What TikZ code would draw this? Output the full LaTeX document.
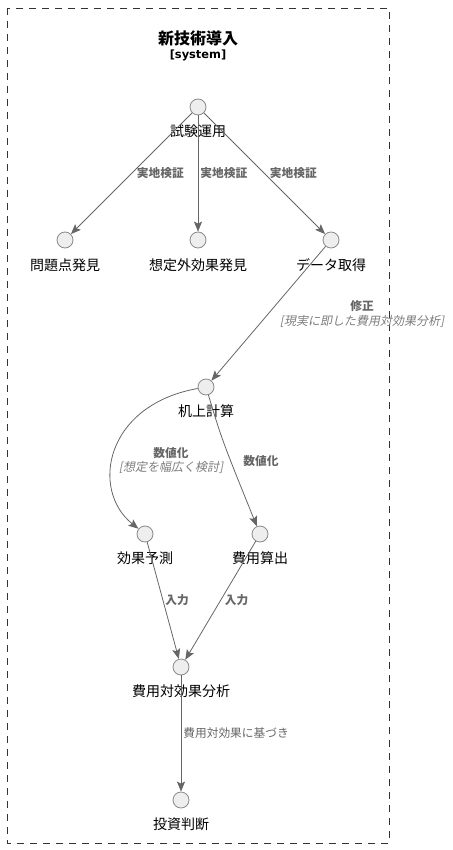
\documentclass[tikz,border=0pt]{standalone}
\usepackage{fontspec}
\setmainfont{Noto Sans CJK JP}[ItalicFont={Noto Sans CJK JP},ItalicFeatures={FakeSlant=0.2}]
\newfontfamily\latinbold{DejaVu Sans}
\usepackage{tikz}
\usetikzlibrary{arrows.meta, calc}

\definecolor{edgegray}{HTML}{666666}
\definecolor{ringgray}{HTML}{8A8A8A}
\definecolor{dotfill}{HTML}{EEEEEE}

\begin{document}
\begin{tikzpicture}[x=1pt, y=-1pt,
    state/.style={circle, draw=ringgray, fill=dotfill, line width=0.8pt, minimum size=16pt, inner sep=0pt},
    lbl/.style={font=\fontsize{14}{16}\selectfont, inner sep=0pt},
    elbl/.style={font=\bfseries\fontsize{11.7}{13}\selectfont, text=edgegray, inner sep=0pt},
    guard/.style={font=\itshape\fontsize{12}{14}\selectfont, text=edgegray!85},
    flow/.style={draw=edgegray, line width=0.8pt, -{Stealth[length=10pt, width=8pt, inset=2pt]}}]
        \useasboundingbox (0,0) rectangle (452,850);

        % frame and title
        \draw[black!80, line width=0.8pt, dash pattern=on 7pt off 6pt] (7,8) rectangle (389,843);
        \node[font=\bfseries\fontsize{16}{18}\selectfont] (title) at (198,38) {新技術導入};
        \node[font=\latinbold\bfseries\fontsize{11.4}{13}\selectfont] (kind) at (198,55) {[system]};

        % states
        \node[state] (trial) at (198,107) {};
        \node[state] (probfind) at (65,240) {};
        \node[state] (unexpfind) at (198,240) {};
        \node[state] (datafetch) at (331,240) {};
        \node[state] (desk) at (206,387) {};
        \node[state] (effect) at (145,534) {};
        \node[state] (cost) at (260,534) {};
        \node[state] (analysis) at (181,667) {};
        \node[state] (invest) at (181,800) {};

        \node[lbl] (trialtxt) at (198,131) {試験運用};
        \node[lbl] (probtxt) at (65,265) {問題点発見};
        \node[lbl] (unexptxt) at (198,265) {想定外効果発見};
        \node[lbl] (datatxt) at (331,265) {データ取得};
        \node[lbl] (desktxt) at (206,411) {机上計算};
        \node[lbl] (effecttxt) at (145,558) {効果予測};
        \node[lbl] (costtxt) at (260,558) {費用算出};
        \node[lbl] (analysistxt) at (181,691) {費用対効果分析};
        \node[lbl] (investtxt) at (181,824) {投資判断};

        % transitions
        \draw[flow] (trial) -- (probfind) node[elbl, midway, anchor=west, xshift=5pt] {実地検証};
        \draw[flow] (trial) -- (unexpfind) node[elbl, midway, anchor=west, xshift=2pt] {実地検証};
        \draw[flow] (trial) -- (datafetch) node[elbl, midway, anchor=west, xshift=5pt] {実地検証};
        \draw[flow] (datafetch) -- (desk);
        \node[elbl] (fixlbl) at (362,306) {修正};
        \node[guard, inner sep=0pt] (fixguard) at (362,321) {[現実に即した費用対効果分析]};
        \draw[flow] (desk) .. controls (105,405) and (90,490) .. (effect);
        \node[elbl] (numlbl) at (171,453) {数値化};
        \node[guard, inner sep=0pt] (numguard) at (171,467) {[想定を幅広く検討]};
        \draw[flow] (desk) .. controls (222,440) .. (cost);
        \node[elbl] (numlbltwo) at (261,461) {数値化};
        \draw[flow] (effect) -- (analysis) node[elbl, pos=0.5, anchor=west, xshift=2pt] {入力};
        \draw[flow] (cost) -- (analysis) node[elbl, pos=0.5, anchor=west, xshift=4pt] {入力};
        \draw[flow] (analysis) -- (invest) node[elbl, midway, anchor=west, xshift=2pt, font=\fontsize{11.7}{13}\selectfont] {費用対効果に基づき};
\end{tikzpicture}
\end{document}
